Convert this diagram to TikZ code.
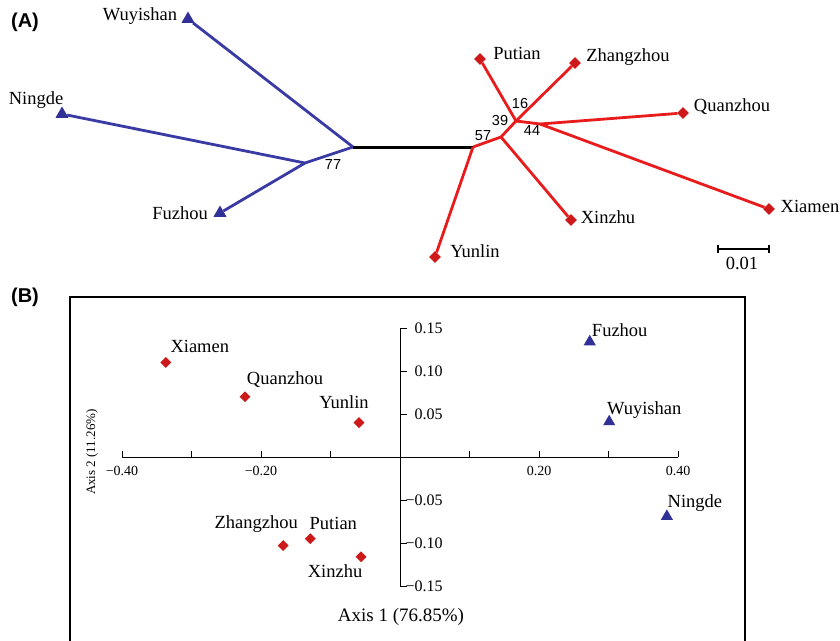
\documentclass[tikz,border=0pt]{standalone}
\usepackage{fontspec}
\setmainfont{Liberation Serif}
\setsansfont{Liberation Sans}
\usetikzlibrary{shapes.geometric}
\definecolor{popblue}{RGB}{58,58,165}
\definecolor{popred}{RGB}{232,28,28}
\definecolor{markred}{RGB}{205,25,25}
\definecolor{markblue}{RGB}{48,48,150}
\newcommand{\sitefont}{\fontsize{18.5}{20}\selectfont}
\newcommand{\bootfont}{\fontsize{14.5}{16}\selectfont\sffamily}
\newcommand{\tickfont}{\fontsize{14}{16}\selectfont}
\newcommand{\ytickfont}{\fontsize{16}{18}\selectfont}

\begin{document}
\begin{tikzpicture}[x=1pt, y=-1pt]
			\tikzstyle{tri}=[
			regular polygon,
			regular polygon sides=3,
			fill=markblue,
			inner sep=0pt,
			minimum size=15pt]
			\tikzstyle{dia}=[
			diamond,
			fill=markred,
			inner sep=0pt,
			minimum size=12pt]
			\tikzstyle{site}=[inner sep=0pt, font=\sitefont]
			\tikzstyle{boot}=[inner sep=0pt, font=\bootfont]
			\tikzstyle{panel}=[inner sep=0pt, font=\fontsize{20}{22}\selectfont\sffamily\bfseries]
			\tikzstyle{bluebr}=[draw=popblue, line width=2.8pt]
			\tikzstyle{redbr}=[draw=popred, line width=2.8pt]
			\tikzstyle{axis}=[draw=black, line width=0.9pt]
			\useasboundingbox (0,0) rectangle (840,640);
			%
			% (A) tree
			\node[panel] (PA) at (25,22) {(A)};
			\node[tri] (W) at (188,19) {};
			\node[tri] (N) at (62,114) {};
			\node[tri] (F) at (220,213) {};
			\coordinate (L1) at (353,147);
			\coordinate (L2) at (305,163);
			\coordinate (R1) at (473,147);
			\coordinate (R2) at (501,137);
			\coordinate (R3) at (516,121);
			\coordinate (R4) at (540,124);
			\node[dia] (Y) at (435,257) {};
			\node[dia] (X) at (571,220) {};
			\node[dia] (P) at (480,59) {};
			\node[dia] (Z) at (575,63) {};
			\node[dia] (Q) at (683,113) {};
			\node[dia] (M) at (769,209) {};
			%
			\node[site] (W_L) at (140,16) {Wuyishan};
			\node[site] (N_L) at (36,100) {Ningde};
			\node[site] (F_L) at (180,213) {Fuzhou};
			\node[site] (Y_L) at (475,251) {Yunlin};
			\node[site] (X_L) at (608,217) {Xinzhu};
			\node[site] (P_L) at (517,53) {Putian};
			\node[site] (Z_L) at (628,57) {Zhangzhou};
			\node[site] (Q_L) at (732,107) {Quanzhou};
			\node[site] (M_L) at (810,206) {Xiamen};
			%
			\path[bluebr] (W) -- (L1);
			\path[bluebr] (N) -- (L2) -- (L1);
			\path[bluebr] (F) -- (L2);
			\draw[line width=3pt] (L1) -- (R1);
			\path[redbr] (R1) -- (Y);
			\path[redbr] (R1) -- (R2) -- (R3) -- (P);
			\path[redbr] (R2) -- (X);
			\path[redbr] (R3) -- (Z);
			\path[redbr] (R3) -- (R4) -- (Q);
			\path[redbr] (R4) -- (M);
			%
			\node[boot] (b77) at (333,165) {77};
			\node[boot] (b57) at (483,136) {57};
			\node[boot] (b39) at (500,121) {39};
			\node[boot] (b16) at (520,104) {16};
			\node[boot] (b44) at (532,131) {44};
			%
			\coordinate (S1) at (718,249);
			\coordinate (S2) at (769,249);
			\draw[line width=1.3pt] (S1) -- (S2);
			\draw[line width=1.3pt] (S1) ++(0,-4) -- ++(0,8);
			\draw[line width=1.3pt] (S2) ++(0,-4) -- ++(0,8);
			\node[site] (SL) at (742,263) {0.01};
			%
			% (B) PCoA
			\node[panel] (PB) at (25,297) {(B)};
			\draw[line width=1.4pt] (70,641) -- (70,297) -- (745,297) -- (745,641);
			\node[inner sep=0pt, font=\fontsize{19}{21}\selectfont] (ax1) at (401,617) {Axis 1 (76.85\%)};
			\node[inner sep=0pt, font=\fontsize{13}{15}\selectfont, rotate=90] (ax2) at (92,452) {Axis 2 (11.26\%)};
			\begin{scope}[shift={(400,457)}, x=695pt, y=860pt]
				\coordinate (O) at (0,0);
				\draw[axis] (-0.4,0) -- (0.4,0);
				\foreach \t in {-0.4,-0.3,-0.2,-0.1,0.1,0.2,0.3,0.4}
					\draw[axis] (\t,0) -- ++(0,6pt);
				\draw[axis] (0,0.15) -- (0,-0.15);
				\foreach \t in {-0.15,-0.1,-0.05,0.05,0.1,0.15}
					\draw[axis] (0,\t) -- ++(7pt,0);
				\foreach \t/\s in {-0.4/−0.40, -0.2/−0.20, 0.2/0.20, 0.4/0.40}
					\node[inner sep=0pt, font=\tickfont, anchor=north] (xt\t) at (\t,-0.0105) {\s};
				\foreach \t/\s in {0.15/0.15, 0.1/0.10, 0.05/0.05, -0.05/−0.05, -0.1/−0.10, -0.15/−0.15}
					\node[inner sep=0pt, font=\ytickfont, anchor=east] (yt\t) at (0.0615,\t) {\s};
				%
				\foreach \n/\px/\py/\dx/\dy/\s in {
					xm/-0.337/0.110/34/16/Xiamen,
					qz/-0.223/0.070/40/17/Quanzhou,
					yl/-0.059/0.040/-15/20/Yunlin,
					zz/-0.168/-0.103/-27/22/Zhangzhou,
					pt/-0.129/-0.095/23/15/Putian,
					xz/-0.056/-0.116/-26/-14/Xinzhu}
				{
					\node[dia, minimum size=11pt] (p\n) at (\px,\py) {};
					\path (p\n) ++(\dx pt,\dy pt) node[site] (l\n) {\s};
				}
				\foreach \n/\px/\py/\dx/\dy/\s in {
					fz/0.273/0.134/30/12/Fuzhou,
					wy/0.301/0.041/35/12/Wuyishan,
					nd/0.384/-0.069/28/13/Ningde}
				{
					\node[tri, minimum size=14pt] (p\n) at (\px,\py) {};
					\path (p\n) ++(\dx pt,\dy pt) node[site] (l\n) {\s};
				}
			\end{scope}
		\end{tikzpicture}
\end{document}
